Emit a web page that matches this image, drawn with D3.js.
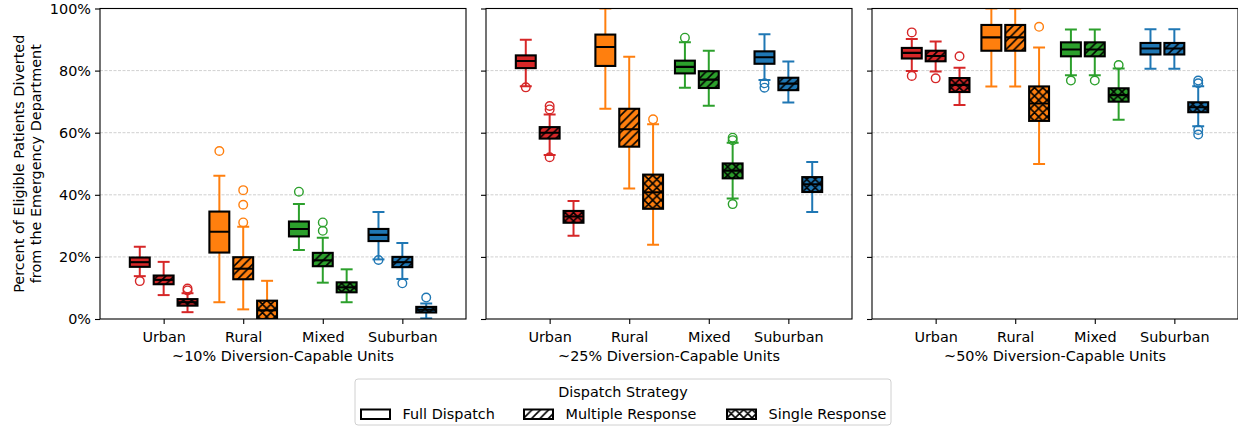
<!DOCTYPE html>
<html>
<head>
<meta charset="utf-8">
<script src="https://cdn.jsdelivr.net/npm/d3@7"></script>
<style>
  body { margin: 0; background: #fff; }
  text { font-family: "DejaVu Sans", sans-serif; fill: #000; }
</style>
</head>
<body>
<div id="chart"></div>
<script>
// ---------------- data ----------------
const panelTitles = ['~10% Diversion-Capable Units', '~25% Diversion-Capable Units', '~50% Diversion-Capable Units'];
const regions = ['Urban', 'Rural', 'Mixed', 'Suburban'];
const strategies = ['Full Dispatch', 'Multiple Response', 'Single Response'];
const regionColors = ['#d62728', '#ff7f0e', '#2ca02c', '#1f77b4'];
const yTicks = [0, 20, 40, 60, 80, 100];

// each row: [whisker low, q1, median, q3, whisker high], order region x strategy
const stats10 = [
  [13.8, 16.8, 18.3, 19.8, 23.3], [7.7, 11.2, 12.6, 14.0, 18.4], [2.2, 4.3, 5.4, 6.4, 8.3],
  [5.4, 21.4, 28.1, 34.6, 46.1], [3.1, 12.8, 16.2, 19.9, 29.7], [0, 0, 2.8, 5.9, 12.3],
  [22.2, 26.6, 29.0, 31.4, 37.0], [11.7, 17.0, 18.9, 21.3, 26.2], [5.4, 8.6, 10.2, 11.8, 16.0],
  [19.2, 25.1, 27.1, 29.0, 34.5], [12.9, 16.7, 18.3, 20.0, 24.5], [0.2, 2.1, 3.0, 3.9, 5.0]
];
const fliers10 = [
  [12.2], [], [9.2, 9.8],
  [54.1], [31.1, 36.8, 41.5], [],
  [41.0], [28.4, 31.1], [],
  [19.0], [11.5], [6.9]
];

const stats25 = [
  [75.0, 80.8, 83.1, 84.9, 89.9], [52.8, 58.1, 60.0, 61.8, 65.9], [26.8, 31.0, 33.0, 34.8, 38.0],
  [67.7, 81.5, 87.6, 91.6, 100], [42.0, 55.5, 61.1, 67.7, 84.5], [23.9, 35.5, 40.8, 46.5, 62.7],
  [74.5, 79.1, 81.2, 83.2, 89.1], [68.7, 74.4, 77.1, 79.8, 86.4], [38.8, 45.3, 47.8, 50.1, 56.8],
  [77.0, 82.2, 84.3, 86.2, 91.7], [69.7, 73.7, 75.8, 77.7, 82.9], [34.5, 40.9, 43.4, 45.7, 50.6]
];
const fliers25 = [
  [74.6], [52.1, 67.5, 68.6], [],
  [], [], [64.3],
  [90.6], [], [37.0, 57.6, 58.4],
  [74.5, 75.9], [], []
];

const stats50 = [
  [79.9, 83.9, 85.7, 87.3, 90.2], [79.7, 83.0, 84.7, 86.4, 89.4], [68.9, 73.1, 75.4, 77.6, 80.9],
  [74.9, 86.4, 90.7, 94.7, 100], [74.9, 86.4, 90.7, 94.7, 100], [49.9, 63.8, 69.4, 74.9, 87.4],
  [78.5, 84.6, 86.8, 89.1, 93.2], [78.5, 84.6, 86.8, 89.1, 93.2], [64.2, 70.0, 72.1, 74.3, 80.7],
  [80.6, 85.2, 87.1, 88.9, 93.3], [80.6, 85.2, 87.1, 88.9, 93.3], [62.1, 66.6, 68.2, 69.8, 75.0]
];
const fliers50 = [
  [78.3, 92.3], [77.5], [84.6],
  [], [], [94.1],
  [76.8], [76.8], [81.8],
  [], [], [59.4, 60.9, 75.9, 76.8]
];

const panelStats = [stats10, stats25, stats50];
const panelFliers = [fliers10, fliers25, fliers50];

// ---------------- layout ----------------
const svgwidth = 1238;
const svgheight = 427;
const panelLefts = [100, 486, 872];
const panelTop = 8.5;
const width = 366;
const height = 310.5;
const fontSize = 14.4;
const offsets = [-0.3, 0, 0.3];
const boxWidth = 0.25;
const hatchIds = [null, 'hatch-diag', 'hatch-cross'];

const svg = d3.select('#chart').append('svg')
  .attr('width', svgwidth).attr('height', svgheight);

// hatch patterns (transparent background, black lines)
const defs = svg.append('defs');
const s = 100 / 12;
const neLines = `M0,${s} L${s},0 M${-s / 2},${s / 2} L${s / 2},${-s / 2} M${s / 2},${s * 1.5} L${s * 1.5},${s / 2}`;
const seLines = ` M0,0 L${s},${s} M${-s / 2},${s / 2} L${s / 2},${s * 1.5} M${s / 2},${-s / 2} L${s * 1.5},${s / 2}`;
defs.append('pattern').attr('id', 'hatch-diag')
  .attr('patternUnits', 'userSpaceOnUse').attr('width', s).attr('height', s)
  .append('path').attr('d', neLines)
  .attr('stroke', '#000').attr('stroke-width', 1.6);
defs.append('pattern').attr('id', 'hatch-cross')
  .attr('patternUnits', 'userSpaceOnUse').attr('width', s).attr('height', s)
  .append('path').attr('d', neLines + seLines)
  .attr('stroke', '#000').attr('stroke-width', 1.6);

defs.append('clipPath').attr('id', 'plot-clip')
  .append('rect').attr('x', 0).attr('y', 0).attr('width', width).attr('height', height);

const xScale = d3.scaleLinear().domain([0.2, 4.8]).range([0, width]);
const yScale = d3.scaleLinear().domain([0, 100]).range([height, 0]);

panelTitles.forEach(function(title, p) {
  const chartGroup = svg.append('g')
    .attr('transform', `translate(${panelLefts[p]},${panelTop})`);

  // grid lines
  chartGroup.append('g').selectAll('line')
    .data(yTicks.filter(t => t > 0 && t < 100)).enter()
    .append('line')
    .attr('x1', 0).attr('x2', width)
    .attr('y1', d => yScale(d)).attr('y2', d => yScale(d))
    .attr('stroke', '#c4c4c4').attr('stroke-width', 0.8)
    .attr('stroke-dasharray', '3,1.5');

  // axes
  const xAxis = d3.axisBottom(xScale).tickValues([1, 2, 3, 4])
    .tickFormat(d => regions[d - 1]).tickSize(5).tickPadding(7.5);
  const yAxis = d3.axisLeft(yScale).tickValues(yTicks)
    .tickFormat(p === 0 ? (d => d + '%') : '').tickSize(5).tickPadding(4);

  const gx = chartGroup.append('g').attr('transform', `translate(0,${height})`).call(xAxis);
  const gy = chartGroup.append('g').call(yAxis);
  [gx, gy].forEach(function(g) {
    g.select('.domain').remove();
    g.selectAll('line').attr('stroke', '#000').attr('stroke-width', 1.1);
    g.selectAll('text').attr('font-size', fontSize).attr('font-family', 'DejaVu Sans').attr('fill', '#000');
  });

  // x label
  chartGroup.append('text')
    .attr('x', width / 2).attr('y', height + 42)
    .attr('text-anchor', 'middle').attr('font-size', fontSize)
    .text(title);

  // boxes
  const marks = chartGroup.append('g').attr('clip-path', 'url(#plot-clip)');
  const stats = panelStats[p];
  const fliers = panelFliers[p];
  const rows = stats.map(function(st, i) {
    const r = Math.floor(i / 3), k = i % 3;
    return { st: st, fl: fliers[i], color: regionColors[r], pos: r + 1 + offsets[k], hatch: hatchIds[k] };
  });

  rows.forEach(function(d) {
    const [lo, q1, med, q3, hi] = d.st;
    const cx = xScale(d.pos);
    const bw = xScale(boxWidth) - xScale(0);
    const cw = bw / 2;
    const g = marks.append('g');

    // whiskers
    g.append('line').attr('x1', cx).attr('x2', cx).attr('y1', yScale(q3)).attr('y2', yScale(hi))
      .attr('stroke', d.color).attr('stroke-width', 2);
    g.append('line').attr('x1', cx).attr('x2', cx).attr('y1', yScale(q1)).attr('y2', yScale(lo))
      .attr('stroke', d.color).attr('stroke-width', 2);
    // caps
    [lo, hi].forEach(v => {
      g.append('line').attr('x1', cx - cw / 2).attr('x2', cx + cw / 2)
        .attr('y1', yScale(v)).attr('y2', yScale(v))
        .attr('stroke', d.color).attr('stroke-width', 2).attr('stroke-linecap', 'square');
    });
    // box fill + hatch + edge
    const bx = cx - bw / 2, by = yScale(q3), bh = yScale(q1) - yScale(q3);
    g.append('rect').attr('x', bx).attr('y', by).attr('width', bw).attr('height', bh)
      .attr('fill', d.color);
    if (d.hatch) {
      g.append('rect').attr('x', bx).attr('y', by).attr('width', bw).attr('height', bh)
        .attr('fill', `url(#${d.hatch})`);
    }
    g.append('rect').attr('x', bx).attr('y', by).attr('width', bw).attr('height', bh)
      .attr('fill', 'none').attr('stroke', '#000').attr('stroke-width', 2.1);
    // median
    g.append('line').attr('x1', bx).attr('x2', bx + bw)
      .attr('y1', yScale(med)).attr('y2', yScale(med))
      .attr('stroke', '#000').attr('stroke-width', 2.1);
    // fliers
    g.selectAll('circle').data(d.fl).enter()
      .append('circle')
      .attr('cx', cx).attr('cy', v => yScale(v)).attr('r', 4.3)
      .attr('fill', 'none').attr('stroke', d.color).attr('stroke-width', 1.4);
  });

  // spines
  chartGroup.append('rect').attr('x', 0).attr('y', 0).attr('width', width).attr('height', height)
    .attr('fill', 'none').attr('stroke', '#000').attr('stroke-width', 1.1);
});

// y axis label
svg.append('text')
  .attr('transform', `translate(27,${panelTop + height / 2}) rotate(-90)`)
  .attr('text-anchor', 'middle').attr('font-size', fontSize)
  .selectAll('tspan')
  .data(['Percent of Eligible Patients Diverted', 'from the Emergency Department']).enter()
  .append('tspan')
  .attr('x', 0).attr('dy', (d, i) => i === 0 ? '-0.2em' : '1.2em')
  .text(d => d);

// ---------------- legend ----------------
const legend = svg.append('g').attr('transform', 'translate(355,379)');
legend.append('rect').attr('x', 0).attr('y', 0).attr('width', 536).attr('height', 46)
  .attr('rx', 3).attr('fill', '#fff').attr('stroke', '#d0d0d0').attr('stroke-width', 1);
legend.append('text').attr('x', 268).attr('y', 17.5).attr('text-anchor', 'middle')
  .attr('font-size', fontSize).text('Dispatch Strategy');

const legendX = [6, 169, 372];
strategies.forEach(function(name, k) {
  const item = legend.append('g').attr('transform', `translate(${legendX[k]},30.5)`);
  item.append('rect').attr('x', 0).attr('y', 0).attr('width', 29).attr('height', 9.5)
    .attr('fill', '#fff');
  if (hatchIds[k]) {
    item.append('rect').attr('x', 0).attr('y', 0).attr('width', 29).attr('height', 9.5)
      .attr('fill', `url(#${hatchIds[k]})`);
  }
  item.append('rect').attr('x', 0).attr('y', 0).attr('width', 29).attr('height', 9.5)
    .attr('fill', 'none').attr('stroke', '#000').attr('stroke-width', 2);
  item.append('text').attr('x', 41.5).attr('y', 9.5).attr('font-size', fontSize).text(name);
});
</script>
</body>
</html>
